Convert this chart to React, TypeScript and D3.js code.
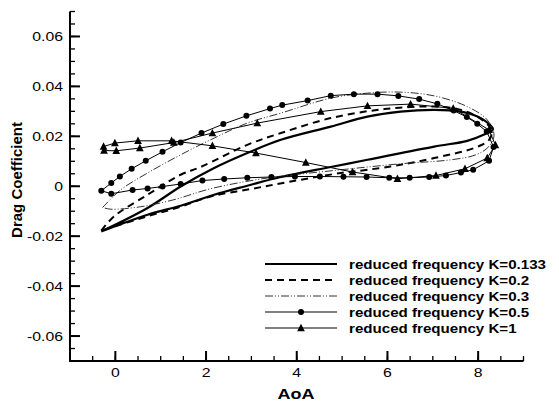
import React from "react";
import * as d3 from "d3";

// ---------- data (AoA, Cd) ----------
const k0133Aoa = [-0.31, 0.71, 1.44, 2.18, 2.91, 3.65, 4.75, 5.56, 7.03, 7.76, 8.17, 8.32, 8.32, 8.06, 7.62, 7.03, 6.29, 5.56, 4.75, 3.65, 2.91, 2.18, 1.44, 0.71, -0.31];
const k0133Cd = [-0.0181, -0.0114, -0.0078, -0.0034, 0.0002, 0.0037, 0.0077, 0.0106, 0.0159, 0.0182, 0.021, 0.0226, 0.0233, 0.0273, 0.0299, 0.0306, 0.0299, 0.0279, 0.0239, 0.0186, 0.0133, 0.0073, -0.0001, -0.0087, -0.0181];

const k02Aoa = [-0.31, -0.03, 0.71, 1.44, 1.88, 2.91, 3.65, 4.75, 5.93, 7.03, 7.62, 8.09, 8.3, 8.24, 7.91, 7.03, 6.29, 5.56, 4.97, 3.87, 2.99, 2.1, 1.44, 0.71, -0.31];
const k02Cd = [-0.0178, -0.0121, -0.0034, 0.0046, 0.0077, 0.0166, 0.0213, 0.0273, 0.0309, 0.0319, 0.0306, 0.0266, 0.0222, 0.0186, 0.0153, 0.0113, 0.0086, 0.0066, 0.0053, 0.0019, -0.0011, -0.0041, -0.0082, -0.012, -0.0178];

const k03Aoa = [-0.28, 0.12, 0.71, 1.44, 2.18, 2.91, 3.65, 4.75, 5.56, 6.29, 7.03, 7.76, 8.2, 8.35, 8.23, 7.95, 7.4, 6.29, 4.82, 3.35, 2.1, 1.29, 0.56, -0.1, -0.28];
const k03Cd = [-0.0085, -0.0014, 0.0053, 0.0126, 0.0193, 0.0253, 0.0293, 0.0353, 0.0373, 0.0377, 0.0362, 0.0319, 0.0266, 0.0205, 0.0158, 0.0126, 0.0106, 0.009, 0.0063, 0.0033, -0.001, -0.0054, -0.0082, -0.0092, -0.0085];

const k05Aoa = [-0.31, -0.09, 0.1, 0.36, 0.67, 1.04, 1.44, 1.9, 2.38, 2.89, 3.41, 3.68, 4.24, 4.75, 5.26, 5.78, 6.24, 6.7, 7.1, 7.46, 7.75, 7.98, 8.19, 8.34, 8.24, 7.89, 7.62, 7.29, 6.92, 6.49, 6.04, 5.54, 5.03, 4.51, 3.96, 3.44, 2.91, 2.4, 1.92, 1.44, 1.04, 0.71, 0.38, -0.09, -0.31];
const k05Cd = [-0.0018, 0.0013, 0.0039, 0.007, 0.0102, 0.0138, 0.0175, 0.0213, 0.0249, 0.0282, 0.0311, 0.0325, 0.0343, 0.0363, 0.0369, 0.0369, 0.0362, 0.0349, 0.033, 0.0303, 0.0277, 0.025, 0.0219, 0.0157, 0.0102, 0.0066, 0.0055, 0.0043, 0.0037, 0.0034, 0.0034, 0.0037, 0.0038, 0.0039, 0.0039, 0.0037, 0.0034, 0.0029, 0.0023, 0.0009, -0.0001, -0.0009, -0.0015, -0.003, -0.0018];

const k1Aoa = [-0.25, 0.02, 0.54, 1.29, 2.14, 3.13, 4.53, 5.56, 6.51, 7.45, 8.24, 8.38, 8.2, 7.71, 7.07, 6.22, 5.23, 4.2, 3.1, 2.14, 1.24, 0.5, -0.01, -0.26, -0.25];
const k1Cd = [0.0143, 0.0142, 0.0153, 0.0175, 0.0213, 0.0253, 0.0299, 0.0322, 0.0329, 0.0312, 0.0226, 0.0165, 0.0113, 0.007, 0.0043, 0.003, 0.0057, 0.0095, 0.0133, 0.0162, 0.0182, 0.0182, 0.0173, 0.0159, 0.0143];

const legendLabels = [
  "reduced frequency K=0.133",
  "reduced frequency K=0.2",
  "reduced frequency K=0.3",
  "reduced frequency K=0.5",
  "reduced frequency K=1",
];
const xMajorTicks = [0, 2, 4, 6, 8];
const yMajorTicks = [0.06, 0.04, 0.02, 0, -0.02, -0.04, -0.06];

// ---------- layout ----------
const W = 559;
const H = 403;
const X0 = 70;
const X1 = 523.5;
const Y0 = 361;
const Y1 = 11.5;
const FONT = "'Liberation Sans', Arial, Helvetica, sans-serif";

type Style = {
  width: number;
  dash?: string;
  color: string;
  marker?: "circle" | "triangle";
  smooth: boolean;
};

const styles: Style[] = [
  { width: 2.2, color: "#000", smooth: true },
  { width: 2, dash: "7,5", color: "#000", smooth: true },
  { width: 1, dash: "8,2,1,2,1,2", color: "#333", smooth: true },
  { width: 1, color: "#000", marker: "circle", smooth: false },
  { width: 1, color: "#000", marker: "triangle", smooth: false },
];

export default function App() {
  const x = d3.scaleLinear().domain([-1, 9]).range([X0, X1]);
  const y = d3.scaleLinear().domain([-0.07, 0.07]).range([Y0, Y1]);

  const series: [number, number][][] = [
    k0133Aoa.map((a, i) => [a, k0133Cd[i]]),
    k02Aoa.map((a, i) => [a, k02Cd[i]]),
    k03Aoa.map((a, i) => [a, k03Cd[i]]),
    k05Aoa.map((a, i) => [a, k05Cd[i]]),
    k1Aoa.map((a, i) => [a, k1Cd[i]]),
  ];

  const smoothLine = d3
    .line<[number, number]>()
    .x((d) => x(d[0]))
    .y((d) => y(d[1]))
    .curve(d3.curveCatmullRom.alpha(0.5));
  const straightLine = d3
    .line<[number, number]>()
    .x((d) => x(d[0]))
    .y((d) => y(d[1]));

  const triPath = (cx: number, cy: number, s: number) =>
    `M${cx},${cy - s * 0.6}L${cx + s * 0.55},${cy + s * 0.45}L${cx - s * 0.55},${cy + s * 0.45}Z`;

  const marker = (kind: "circle" | "triangle" | undefined, cx: number, cy: number, key: string) => {
    if (kind === "circle") return <circle key={key} cx={cx} cy={cy} r={3} fill="#000" />;
    if (kind === "triangle") return <path key={key} d={triPath(cx, cy, 7)} fill="#000" />;
    return null;
  };

  const yMinor = d3.range(-0.07, 0.0701, 0.005).map((v) => Math.round(v * 1000) / 1000);
  const xMinor = d3.range(-0.5, 9.01, 0.5);

  const legY0 = 264;
  const legDy = 16;

  return (
    <svg
      width={W}
      height={H}
      style={{ position: "absolute", left: 0, top: 0, background: "#fff" }}
      fontFamily={FONT}
    >
      <rect x={0} y={0} width={W} height={H} fill="#fff" />
      {/* curves */}
      {series.map((pts, si) => {
        const st = styles[si];
        const d = st.smooth ? smoothLine(pts) : straightLine(pts);
        return (
          <g key={si}>
            <path
              d={d || ""}
              fill="none"
              stroke={st.color}
              strokeWidth={st.width}
              strokeDasharray={st.dash}
              strokeLinejoin="round"
            />
            {st.marker &&
              pts.slice(0, -1).map((p, i) => marker(st.marker, x(p[0]), y(p[1]), `${si}-${i}`))}
          </g>
        );
      })}

      {/* y axis */}
      <line x1={X0} x2={X0} y1={Y1} y2={Y0 + 1} stroke="#000" strokeWidth={2} />
      {yMinor.map((v) => (
        <line key={"ym" + v} x1={X0} x2={X0 + 5} y1={y(v)} y2={y(v)} stroke="#000" strokeWidth={1.3} />
      ))}
      {yMajorTicks.map((v) => (
        <g key={"yM" + v}>
          <line x1={X0} x2={X0 + 10} y1={y(v)} y2={y(v)} stroke="#000" strokeWidth={2} />
          <text
            transform={`translate(63,${y(v)}) scale(1.17,1)`}
            dy="0.36em"
            textAnchor="end"
            fontSize={13.5}
            fill="#000"
          >
            {v === 0 ? "0" : d3.format(".2f")(v).replace("−", "-")}
          </text>
        </g>
      ))}

      {/* x axis */}
      <line x1={X0 - 1} x2={X1} y1={Y0} y2={Y0} stroke="#000" strokeWidth={2} />
      {xMinor.map((v) => (
        <line key={"xm" + v} x1={x(v)} x2={x(v)} y1={Y0} y2={Y0 - 5} stroke="#000" strokeWidth={1.3} />
      ))}
      {xMajorTicks.map((v) => (
        <g key={"xM" + v}>
          <line x1={x(v)} x2={x(v)} y1={Y0} y2={Y0 - 10} stroke="#000" strokeWidth={2} />
          <text
            transform={`translate(${x(v)},377) scale(1.17,1)`}
            textAnchor="middle"
            fontSize={13.5}
            fill="#000"
          >
            {v}
          </text>
        </g>
      ))}

      {/* axis titles */}
      <text
        transform="translate(296,399) scale(1.2,1)"
        textAnchor="middle"
        fontSize={15}
        fontWeight="bold"
        fill="#000"
      >
        AoA
      </text>
      <text
        transform="translate(22,180) rotate(-90)"
        textAnchor="middle"
        fontSize={15}
        fontWeight="bold"
        fill="#000"
      >
        Drag Coefficient
      </text>

      {/* legend */}
      {legendLabels.map((lab, i) => {
        const st = styles[i];
        const ly = legY0 + i * legDy;
        return (
          <g key={"leg" + i}>
            <line
              x1={265}
              x2={337}
              y1={ly}
              y2={ly}
              stroke={st.color}
              strokeWidth={st.width}
              strokeDasharray={st.dash}
            />
            {marker(st.marker, 301, ly, "lm" + i)}
            <text
              transform={`translate(349,${ly}) scale(1.12,1)`}
              dy="0.35em"
              fontSize={13.5}
              fontWeight="bold"
              fill="#000"
            >
              {lab}
            </text>
          </g>
        );
      })}
    </svg>
  );
}
